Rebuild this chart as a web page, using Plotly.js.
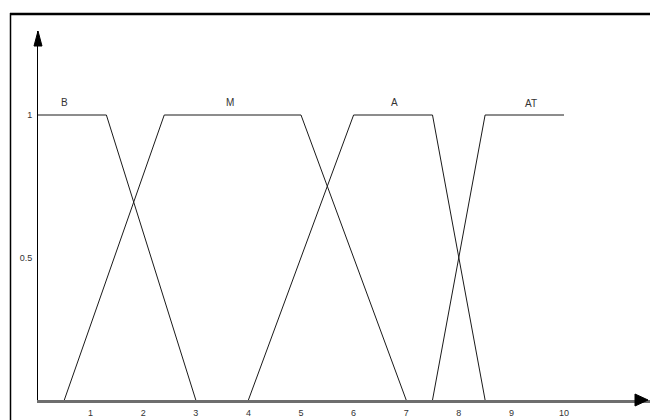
<!DOCTYPE html>
<html>
<head>
<meta charset="utf-8">
<script src="https://cdn.plot.ly/plotly-3.0.1.min.js"></script>
<style>
html,body{margin:0;padding:0;background:#fff;}
#chart{width:650px;height:420px;}
</style>
</head>
<body>
<div id="chart"></div>
<script>
// Data: fuzzy membership functions
const seriesNames = ["B", "M", "A", "AT"];
const bX  = [0, 1.3, 3];
const bY  = [1, 1, 0];
const mX  = [0.5, 2.4, 5, 7];
const mY  = [0, 1, 1, 0];
const aX  = [4, 6, 7.5, 8.5];
const aY  = [0, 1, 1, 0];
const atX = [7.5, 8.5, 10];
const atY = [0, 1, 1];
const xTickVals = [1, 2, 3, 4, 5, 6, 7, 8, 9, 10];
const xTickText = ["1", "2", "3", "4", "5", "6", "7", "8", "9", "10"];
const yTickVals = [0.5, 1];
const yTickText = ["0.5", "1"];

// Layout geometry (pixels)
const W = 650, H = 420;
const mL = 38, mR = 0, mT = 31, mB = 20;
const pw = W - mL - mR, ph = H - mT - mB;
const pxPerX = 52.6, pxPerY = 285;
const xMax = pw / pxPerX, yMax = ph / pxPerY;
const px = p => (p - mL) / pw;          // pixel x -> paper
const py = p => (H - mB - p) / ph;      // pixel y -> paper

const lineStyle = {color: "#1a1a1a", width: 1};
const xs = [bX, mX, aX, atX], ys = [bY, mY, aY, atY];
const traces = xs.map((x, i) => ({
  x: x, y: ys[i], type: "scatter", mode: "lines", name: seriesNames[i],
  line: lineStyle, cliponaxis: false, showlegend: false, hoverinfo: "skip"
}));

// label positions for the series names
const labelPos = [[0.5, 1.045], [3.65, 1.045], [6.78, 1.045], [9.37, 1.04]];
const annotations = seriesNames.map((n, i) => ({
  x: labelPos[i][0], y: labelPos[i][1], xref: "x", yref: "y",
  text: n, showarrow: false, font: {family: "Liberation Sans, Arial, sans-serif", size: 10, color: "#333"}
}));

const shapes = [
  // frame (top and left border of the picture)
  {type: "line", xref: "paper", yref: "paper", x0: px(10), x1: px(652), y0: py(14), y1: py(14), line: {color: "#000", width: 2.5}},
  {type: "line", xref: "paper", yref: "paper", x0: px(10.5), x1: px(10.5), y0: py(13), y1: py(425), line: {color: "#000", width: 1.5}},
  // x axis arrow head
  {type: "path", xref: "paper", yref: "paper",
   path: `M ${px(648)} ${py(400)} L ${px(635)} ${py(394)} L ${px(635)} ${py(406)} Z`,
   fillcolor: "#000", line: {color: "#000", width: 1}},
  // y axis arrow head
  {type: "path", xref: "paper", yref: "paper",
   path: `M ${px(38)} ${py(31)} L ${px(34)} ${py(46)} L ${px(42)} ${py(46)} Z`,
   fillcolor: "#000", line: {color: "#000", width: 1}}
];

const layout = {
  width: W, height: H,
  margin: {l: mL, r: mR, t: mT, b: mB, pad: 0},
  paper_bgcolor: "#fff", plot_bgcolor: "#fff",
  showlegend: false,
  xaxis: {
    range: [0, xMax], showgrid: false, zeroline: false,
    showline: true, linecolor: "#6e6e6e", linewidth: 2.5,
    tickvals: xTickVals, ticktext: xTickText, ticks: "", ticklabelstandoff: 3,
    tickfont: {family: "Liberation Sans, Arial, sans-serif", size: 9, color: "#333"},
    fixedrange: true
  },
  yaxis: {
    range: [0, yMax], showgrid: false, zeroline: false,
    showline: true, linecolor: "#000", linewidth: 1,
    tickvals: yTickVals, ticktext: yTickText, ticks: "", ticklabelstandoff: 3,
    tickfont: {family: "Liberation Sans, Arial, sans-serif", size: 9, color: "#333"},
    fixedrange: true
  },
  shapes: shapes,
  annotations: annotations
};

Plotly.newPlot("chart", traces, layout, {staticPlot: true, displayModeBar: false});
</script>
</body>
</html>
